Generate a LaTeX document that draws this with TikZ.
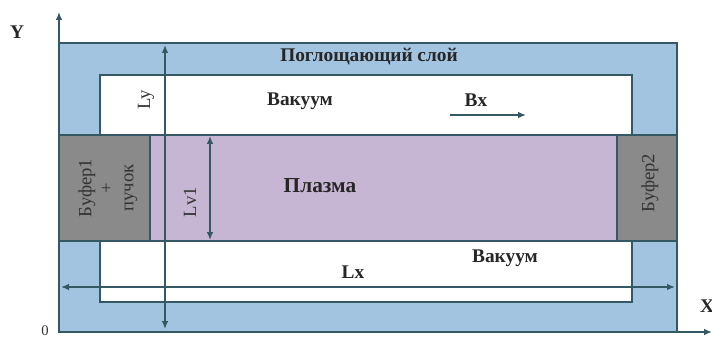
\documentclass[tikz,border=0pt]{standalone}
\usepackage{fontspec}
\setmainfont{Liberation Serif}
\usetikzlibrary{arrows.meta}
\definecolor{absorb}{RGB}{162,196,224}
\definecolor{plasma}{RGB}{198,182,212}
\definecolor{buffer}{RGB}{138,138,138}
\definecolor{edge}{RGB}{52,88,100}
\tikzset{
  zone/.style={draw=edge, line width=1.2pt},
  dim/.style={draw=edge, line width=1.1pt, {Latex[length=6pt,width=5pt]}-{Latex[length=6pt,width=5pt]}},
  axis/.style={draw=edge, line width=1.1pt, -{Latex[length=6pt,width=5pt]}},
  lbl/.style={font=\fontsize{14.5}{16}\selectfont\bfseries, text=black!85},
  thin lbl/.style={font=\fontsize{14}{15.75}\selectfont, text=black!80},
}
\begin{document}
\begin{tikzpicture}[x=0.75pt, y=-0.75pt]
\useasboundingbox (0,0) rectangle (712,338);
% absorbing layer, vacuum region, plasma band and buffers
\path[zone, fill=absorb] (59,43) rectangle (677,332);
\path[zone, fill=white] (100,75) rectangle (632,302);
\path[zone, fill=plasma] (59,135) rectangle (677,241);
\path[zone, fill=buffer] (59,135) rectangle (150,241);
\path[zone, fill=buffer] (617,135) rectangle (677,241);
% axes
\coordinate (o) at (59,332);
\coordinate (ytop) at (59,12);
\coordinate (xend) at (712,332);
\draw[axis] (o) -- (ytop);
\draw[axis] (o) -- (xend);
\node[lbl] (ylab) at (17,32) {Y};
\node[lbl] (xlab) at (707,306) {X};
\node[thin lbl, font=\fontsize{11}{12}\selectfont] (olab) at (45,331) {0};
% dimension arrows
\coordinate (lyt) at (165,45);
\coordinate (lyb) at (165,329);
\draw[dim] (lyt) -- (lyb);
\node[thin lbl, rotate=90] (ly) at (146,100) {Ly};
\coordinate (lvt) at (210,136);
\coordinate (lvb) at (210,240);
\draw[dim] (lvt) -- (lvb);
\node[thin lbl, rotate=90] (lv) at (190,202) {Lv1};
\coordinate (lxl) at (61,287);
\coordinate (lxr) at (675,287);
\draw[dim] (lxl) -- (lxr);
\node[lbl] (lx) at (353,272) {Lx};
\coordinate (bxa) at (450,115);
\coordinate (bxb) at (526,115);
\draw[axis] (bxa) -- (bxb);
\node[lbl] (bx) at (476,100) {Bx};
% region labels
\node[lbl] (abs) at (369,57) {Поглощающий слой};
\node[lbl] (vac1) at (300,101) {Вакуум};
\node[lbl, font=\fontsize{16}{18}\selectfont\bfseries] (pl) at (320,186) {Плазма};
\node[lbl] (vac2) at (505,258) {Вакуум};
\node[thin lbl, rotate=90, align=center, inner sep=0pt] (b1) at (108,188) {Буфер1\\+\\пучок};
\node[thin lbl, rotate=90] (b2) at (650,183) {Буфер2};
\end{tikzpicture}
\end{document}
